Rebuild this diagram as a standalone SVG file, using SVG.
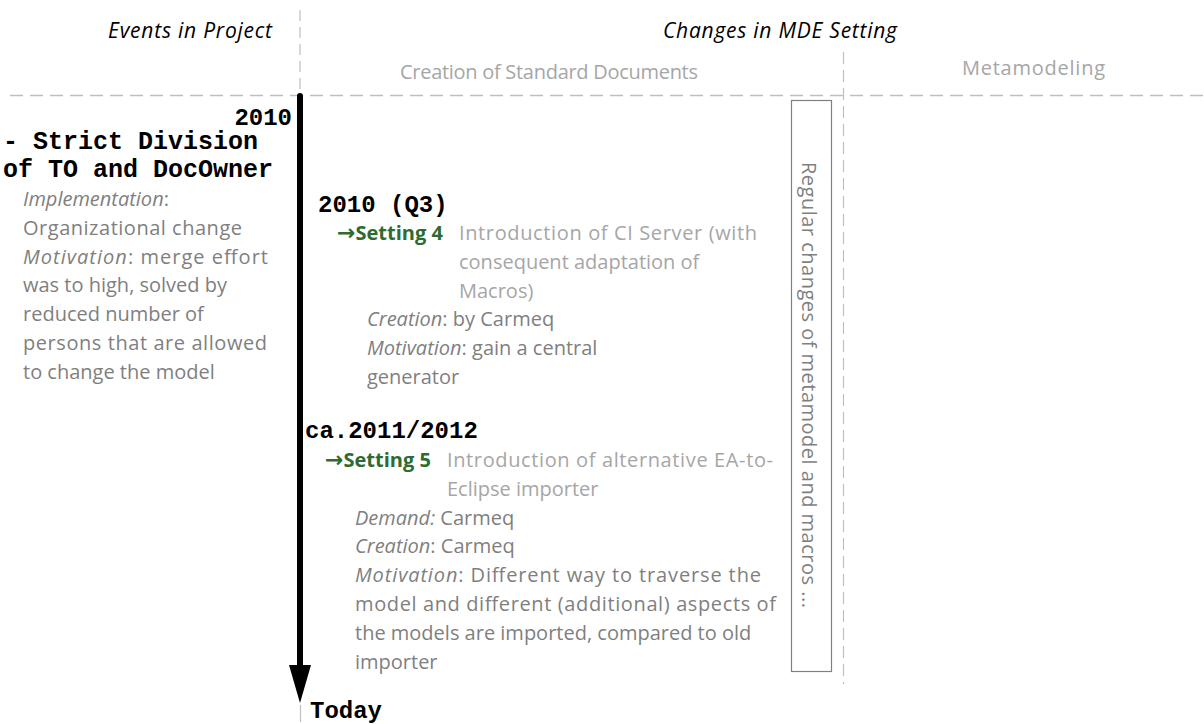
<svg xmlns="http://www.w3.org/2000/svg" width="1204" height="724" viewBox="0 0 1204 724">
  <style>
    .grid { stroke: #bfbfbf; fill: none; }
    .hdr { font-family: "Open Sans", "Liberation Sans", sans-serif; font-size: 21px; font-style: italic; fill: #000; }
    .lane { font-family: "Open Sans", "Liberation Sans", sans-serif; font-size: 20px; fill: #a6a6a6; }
    .mono { font-family: "Liberation Mono", "Courier New", monospace; font-size: 24px; font-weight: bold; fill: #000; }
    .mono-lg { font-family: "Liberation Mono", "Courier New", monospace; font-size: 25px; font-weight: bold; fill: #000; }
    .body { font-family: "Open Sans", "Liberation Sans", sans-serif; font-size: 20px; fill: #7f7f7f; }
    .title { font-family: "Open Sans", "Liberation Sans", sans-serif; font-size: 20px; fill: #a6a6a6; }
    .setting { font-family: "Open Sans", "Liberation Sans", sans-serif; font-size: 20px; font-weight: bold; fill: #2f6b2f; }
    .arw { font-family: "DejaVu Sans", sans-serif; font-weight: bold; font-size: 22px; }
    .it { font-style: italic; }
  </style>
  <defs>
    <marker id="arrowHead" viewBox="0 0 38 22" refX="0" refY="11" markerUnits="userSpaceOnUse" markerWidth="38" markerHeight="22" orient="auto">
      <path d="M0,0 L38,11 L0,22 Z" fill="#000"/>
    </marker>
  </defs>

  <!-- swimlane grid -->
  <g id="grid">
    <line class="grid" x1="300" y1="10" x2="300" y2="95" stroke-width="1.2" stroke-dasharray="11 6"/>
    <line class="grid" x1="300.5" y1="705" x2="300.5" y2="722" stroke-width="1.2"/>
    <line class="grid" x1="10" y1="95.5" x2="1204" y2="95.5" stroke-width="1.6" stroke-dasharray="13 7"/>
    <line class="grid" x1="843.5" y1="52" x2="843.5" y2="684" stroke-width="1.2" stroke-dasharray="12 6"/>
  </g>

  <!-- column headers -->
  <g id="headers">
    <text class="hdr" x="272" y="38" text-anchor="end" textLength="164">Events in Project</text>
    <text class="hdr" x="663" y="38" textLength="234">Changes in MDE Setting</text>
    <text class="lane" x="400" y="79" textLength="298">Creation of Standard Documents</text>
    <text class="lane" x="962" y="75" textLength="143">Metamodeling</text>
  </g>

  <!-- time axis -->
  <g id="connectors">
    <path d="M300,96 L300,665" stroke="#000" stroke-width="6" stroke-linecap="round" fill="none" marker-end="url(#arrowHead)"/>
  </g>

  <g id="start-2010">
    <text class="mono" x="292" y="125" text-anchor="end">2010</text>
    <text class="mono-lg" x="3" y="149">- Strict Division</text>
    <text class="mono-lg" x="3" y="177">of TO and DocOwner</text>
    <text class="body" x="23" y="206"><tspan class="it">Implementation</tspan>:</text>
    <text class="body" x="23" y="234.8" textLength="219">Organizational change</text>
    <text class="body" x="23" y="263.6" textLength="245"><tspan class="it">Motivation</tspan>: merge effort</text>
    <text class="body" x="23" y="292.4">was to high, solved by</text>
    <text class="body" x="23" y="321.2">reduced number of</text>
    <text class="body" x="23" y="350" textLength="244">persons that are allowed</text>
    <text class="body" x="23" y="378.8">to change the model</text>
  </g>

  <g id="setting-4">
    <text class="mono" x="318" y="212">2010 (Q3)</text>
    <text class="setting" x="337" y="240"><tspan class="arw">→</tspan>Setting 4</text>
    <text class="title" x="459" y="240" textLength="298">Introduction of CI Server (with</text>
    <text class="title" x="459" y="268.8">consequent adaptation of</text>
    <text class="title" x="459" y="297.6">Macros)</text>
    <text class="body" x="367" y="326.4"><tspan class="it">Creation</tspan>: by Carmeq</text>
    <text class="body" x="367" y="355.2"><tspan class="it">Motivation</tspan>: gain a central</text>
    <text class="body" x="367" y="384">generator</text>
  </g>

  <g id="setting-5">
    <text class="mono" x="305" y="438">ca.2011/2012</text>
    <text class="setting" x="325" y="467"><tspan class="arw">→</tspan>Setting 5</text>
    <text class="title" x="447" y="467" textLength="326">Introduction of alternative EA-to-</text>
    <text class="title" x="447" y="495.8">Eclipse importer</text>
    <text class="body" x="355" y="524.6"><tspan class="it">Demand:</tspan> Carmeq</text>
    <text class="body" x="355" y="553.4"><tspan class="it">Creation</tspan>: Carmeq</text>
    <text class="body" x="355" y="582.2" textLength="406"><tspan class="it">Motivation</tspan>: Different way to traverse the</text>
    <text class="body" x="355" y="611" textLength="421">model and different (additional) aspects of</text>
    <text class="body" x="355" y="639.8">the models are imported, compared to old</text>
    <text class="body" x="355" y="668.6">importer</text>
  </g>

  <g id="metamodel-changes">
    <rect x="791.5" y="100.5" width="40" height="571" fill="#fff" stroke="#808080" stroke-width="1.2"/>
    <text class="body" transform="translate(802,162) rotate(90)" x="0" y="0" textLength="446">Regular changes of metamodel and macros ...</text>
  </g>

  <g id="today">
    <text class="mono" x="310" y="718">Today</text>
  </g>
</svg>
